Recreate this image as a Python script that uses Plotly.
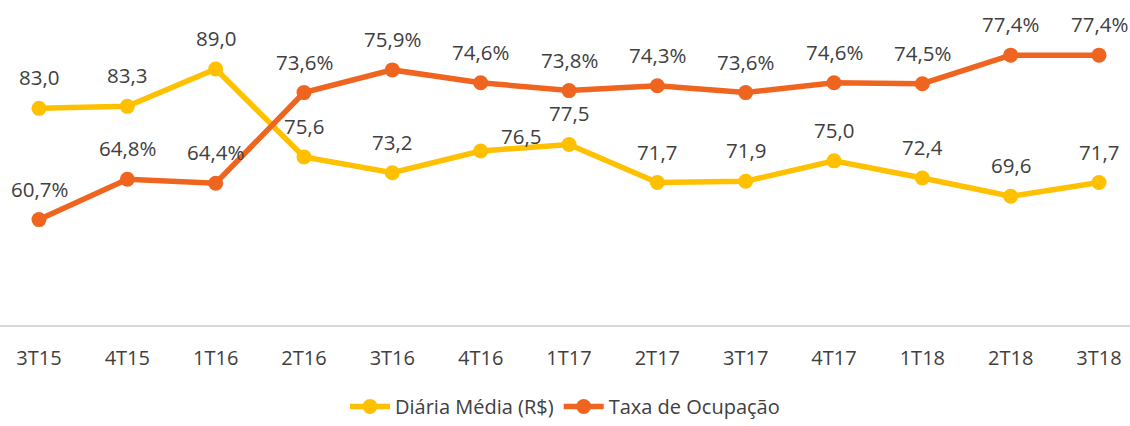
import plotly.graph_objects as go

categories = ["3T15", "4T15", "1T16", "2T16", "3T16", "4T16", "1T17",
              "2T17", "3T17", "4T17", "1T18", "2T18", "3T18"]
diaria_media = [83.0, 83.3, 89.0, 75.6, 73.2, 76.5, 77.5, 71.7, 71.9, 75.0, 72.4, 69.6, 71.7]
taxa_ocupacao = [60.7, 64.8, 64.4, 73.6, 75.9, 74.6, 73.8, 74.3, 73.6, 74.6, 74.5, 77.4, 77.4]

YELLOW = "#FFC000"
ORANGE = "#EF651F"
TEXT = "#404040"
FONT = "Open Sans"

# label offsets (styling): default above point; a few manually nudged
label_dy = 31
diaria_offsets = {5: (40, 15)}

fig = go.Figure()
fig.add_trace(go.Scatter(
    x=categories, y=diaria_media, name="Diária Média (R$)",
    mode="lines+markers", line=dict(color=YELLOW, width=5.5),
    marker=dict(color=YELLOW, size=15), yaxis="y", cliponaxis=False,
))
fig.add_trace(go.Scatter(
    x=categories, y=taxa_ocupacao, name="Taxa de Ocupação",
    mode="lines+markers", line=dict(color=ORANGE, width=5.5),
    marker=dict(color=ORANGE, size=15), yaxis="y2", cliponaxis=False,
))

annotations = []
for i, (c, v) in enumerate(zip(categories, diaria_media)):
    dx, dy = diaria_offsets.get(i, (0, label_dy))
    annotations.append(dict(
        x=c, y=v, xref="x", yref="y", text=f"{v:.1f}".replace(".", ","),
        showarrow=False, xshift=dx, yshift=dy,
        font=dict(family=FONT, size=20.5, color=TEXT)))
for i, (c, v) in enumerate(zip(categories, taxa_ocupacao)):
    annotations.append(dict(
        x=c, y=v, xref="x", yref="y2", text=f"{v:.1f}%".replace(".", ","),
        showarrow=False, yshift=label_dy,
        font=dict(family=FONT, size=20.5, color=TEXT)))

fig.update_layout(
    width=1130, height=426,
    margin=dict(l=0, r=0, t=0, b=96),
    paper_bgcolor="white", plot_bgcolor="white",
    font=dict(family=FONT, color=TEXT),
    showlegend=True,
    legend=dict(orientation="h", x=0.5, xanchor="center", y=-0.252, yanchor="middle",
                font=dict(family=FONT, size=20, color=TEXT), itemwidth=40,
                traceorder="normal"),
    xaxis=dict(type="category", range=[-0.4415, 12.3509], showgrid=False,
               showline=True, linecolor="#D9D9D9", linewidth=2, ticks="",
               tickfont=dict(family=FONT, size=20, color=TEXT), zeroline=False,
               ticklabelstandoff=14),
    yaxis=dict(range=[50, 99.5], visible=False, showgrid=False, zeroline=False),
    yaxis2=dict(range=[50, 83.0], visible=False, overlaying="y", side="right",
                showgrid=False, zeroline=False),
    annotations=annotations,
    hovermode=False,
)

fig.write_html("out.html", config={"displayModeBar": False},
               post_script="document.body.style.margin='0';document.body.style.overflow='hidden';")
